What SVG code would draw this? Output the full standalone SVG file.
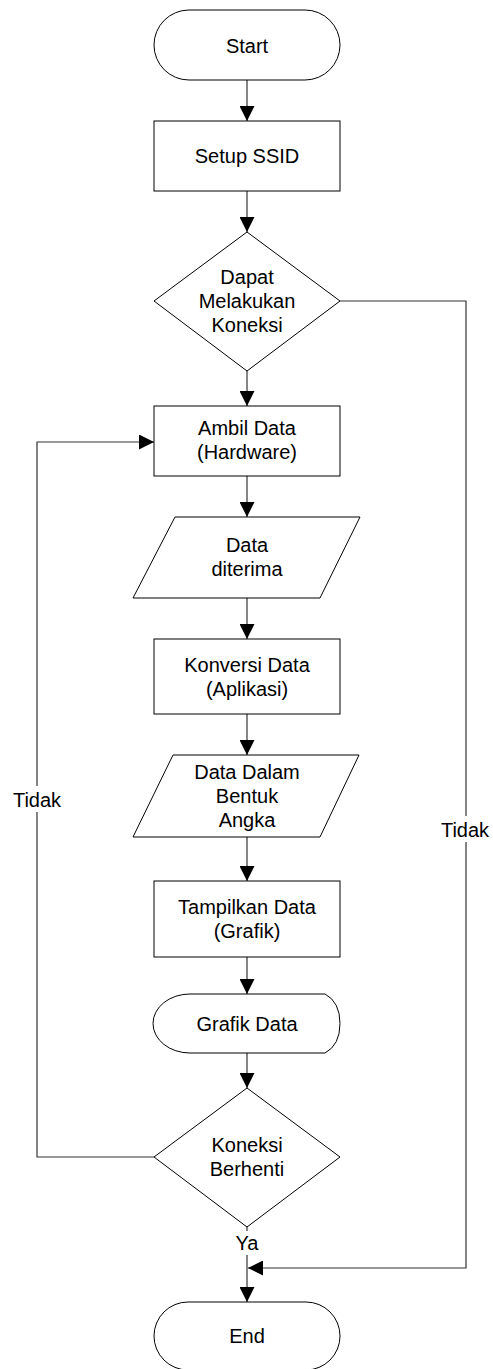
<svg xmlns="http://www.w3.org/2000/svg" width="493" height="1369" viewBox="0 0 493 1369">
<style>
.s{fill:#fff;stroke:#000;stroke-width:1}
.c{fill:none;stroke:#333;stroke-width:1.2}
text{font-family:"Liberation Sans",Arial,sans-serif;font-size:20px;fill:#000;text-anchor:middle}
</style>
<defs>
<marker id="ah" markerUnits="userSpaceOnUse" markerWidth="15" markerHeight="15" refX="14" refY="7" orient="auto" viewBox="0 0 14 14">
<path d="M0,0 L14,7 L0,14 Z" fill="#000"/>
</marker>
</defs>
<rect width="493" height="1369" fill="#fff"/>
<g id="connectors">
<line class="c" x1="247" y1="80" x2="247" y2="121" marker-end="url(#ah)"/>
<line class="c" x1="247" y1="191" x2="247" y2="232" marker-end="url(#ah)"/>
<line class="c" x1="247" y1="371" x2="247" y2="406" marker-end="url(#ah)"/>
<line class="c" x1="247" y1="476" x2="247" y2="517" marker-end="url(#ah)"/>
<line class="c" x1="247" y1="598" x2="247" y2="639" marker-end="url(#ah)"/>
<line class="c" x1="247" y1="714" x2="247" y2="755" marker-end="url(#ah)"/>
<line class="c" x1="247" y1="837" x2="247" y2="881" marker-end="url(#ah)"/>
<line class="c" x1="247" y1="957" x2="247" y2="994" marker-end="url(#ah)"/>
<line class="c" x1="247" y1="1053" x2="247" y2="1088" marker-end="url(#ah)"/>
<line class="c" x1="247" y1="1227" x2="247" y2="1302" marker-end="url(#ah)"/>
<polyline class="c" points="340,301 466,301 466,1268 248,1268" marker-end="url(#ah)"/>
<polyline class="c" points="154,1157 37,1157 37,442 154,442" marker-end="url(#ah)"/>
<rect x="12" y="786" width="50" height="26" fill="#fff"/>
<text x="37" y="807">Tidak</text>
<rect x="441" y="816" width="50" height="26" fill="#fff"/>
<text x="465" y="837">Tidak</text>
<rect x="234" y="1231" width="26" height="24" fill="#fff"/>
<text x="247" y="1250">Ya</text>
</g>
<g id="start">
<rect class="s" x="154" y="10" width="186" height="70" rx="35" ry="35"/>
<text x="247" y="53">Start</text>
</g>
<g id="setup">
<rect class="s" x="154" y="121" width="186" height="70"/>
<text x="247" y="163">Setup SSID</text>
</g>
<g id="dapat">
<polygon class="s" points="247,232 340,301 247,371 154,301"/>
<text x="247" y="284">Dapat</text>
<text x="247" y="308">Melakukan</text>
<text x="247" y="332">Koneksi</text>
</g>
<g id="ambil">
<rect class="s" x="154" y="406" width="186" height="70"/>
<text x="247" y="435">Ambil Data</text>
<text x="247" y="459">(Hardware)</text>
</g>
<g id="diterima">
<polygon class="s" points="175,517 360,517 320,598 133,598"/>
<text x="247" y="552">Data</text>
<text x="247" y="576">diterima</text>
</g>
<g id="konversi">
<rect class="s" x="154" y="639" width="186" height="75"/>
<text x="247" y="672">Konversi Data</text>
<text x="247" y="696">(Aplikasi)</text>
</g>
<g id="angka">
<polygon class="s" points="173,755 359,755 320,837 133,837"/>
<text x="247" y="779">Data Dalam</text>
<text x="247" y="803">Bentuk</text>
<text x="247" y="827">Angka</text>
</g>
<g id="tampilkan">
<rect class="s" x="154" y="881" width="186" height="76"/>
<text x="247" y="914">Tampilkan Data</text>
<text x="247" y="938">(Grafik)</text>
</g>
<g id="grafik">
<path class="s" d="M190,994 L325,994 Q340,1002 340,1023.5 Q340,1045 325,1053 L190,1053 A37,29.5 0 0 1 190,994 Z"/>
<text x="247" y="1031">Grafik Data</text>
</g>
<g id="berhenti">
<polygon class="s" points="247,1088 340,1157 247,1227 154,1157"/>
<text x="247" y="1152">Koneksi</text>
<text x="247" y="1176">Berhenti</text>
</g>
<g id="end">
<rect class="s" x="154" y="1302" width="186" height="68" rx="34" ry="34"/>
<text x="247" y="1343">End</text>
</g>
</svg>
